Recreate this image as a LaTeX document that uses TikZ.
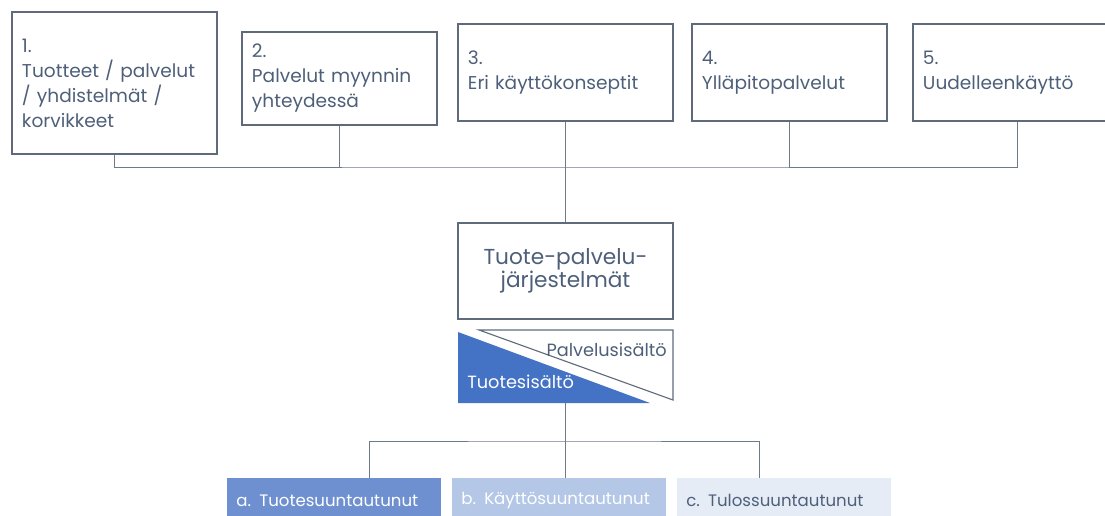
\documentclass[tikz,border=0pt]{standalone}
\usepackage{fontspec}
\setmainfont{Poppins}
\usetikzlibrary{positioning}

\definecolor{txtblue}{HTML}{4E5F7A}
\definecolor{linegray}{HTML}{6F7A89}
\definecolor{boxgray}{HTML}{5F6B7A}
\definecolor{prodblue}{HTML}{4472C4}
\definecolor{oriA}{HTML}{6F90D0}
\definecolor{oriB}{HTML}{B4C7E7}
\definecolor{oriC}{HTML}{E6ECF6}

\tikzset{
  typebox/.style={draw=boxgray, line width=0.8pt, text=txtblue, align=left, inner sep=0pt,
    font=\fontsize{13.2}{17.8}\selectfont},
  conn/.style={draw=linegray, line width=0.7pt},
  orient/.style={anchor=north west, inner xsep=0.225cm, inner ysep=0pt, text width=4.9cm,
    minimum height=1.1cm, align=left, font=\fontsize{11.8}{14}\selectfont}
}

\begin{document}
\begin{tikzpicture}[x=0.025cm,y=-0.025cm]
  \useasboundingbox (0,0) rectangle (1105,515);
  \clip (0,0) rectangle (1105,515);

  % service types
  \node[typebox, minimum width=5.125cm, minimum height=3.55cm, text width=4.625cm] (b1) at (114.5,83)
    {1.\\Tuotteet / palvelut\\/ yhdistelmät /\\korvikkeet};
  \node[typebox, minimum width=4.875cm, minimum height=2.325cm, text width=4.375cm] (b2) at (339.5,78.5)
    {2.\\Palvelut myynnin\\yhteydessä};
  \node[typebox, minimum width=5.375cm, minimum height=2.425cm, text width=4.875cm] (b3) at (565.5,72.5)
    {3.\\Eri käyttökonseptit};
  \node[typebox, minimum width=4.875cm, minimum height=2.425cm, text width=4.375cm] (b4) at (789.5,72.5)
    {4.\\Ylläpitopalvelut};
  \node[typebox, minimum width=5.2cm, minimum height=2.425cm, text width=4.7cm] (b5) at (1017,72.5)
    {5.\\Uudelleenkäyttö};

  % product-service system
  \node[typebox, align=center, minimum width=5.375cm, minimum height=2.4cm,
    font=\fontsize{15.4}{16.4}\selectfont] (pss) at (565.5,271) {Tuote-palvelu-\\järjestelmät};

  % top bus
  \coordinate (bus) at (565,167);
  \draw[conn] (b1.south) |- (bus) -| (b5.south);
  \draw[conn] (b2.south) -- (b2.south |- bus);
  \draw[conn] (b4.south) -- (b4.south |- bus);
  \draw[conn] (b3.south) -- (pss.north);

  % content split
  \fill[prodblue] (458,332) -- (458,403) -- (650,403) -- cycle;
  \draw[boxgray, line width=0.8pt] (479,330) -- (673,330) -- (673,400) -- cycle;
  \node[anchor=base east, inner sep=0pt, text=txtblue, font=\fontsize{12.6}{14}\selectfont] (svc) at (667,356) {Palvelusisältö};
  \node[anchor=base west, inner sep=0pt, text=white, font=\fontsize{12.6}{14}\selectfont] (prod) at (467,388) {Tuotesisältö};
  \coordinate (tribase) at (565,403);

  % orientations
  \node[orient, fill=oriA, text=white] (ta) at (227,478) {a. Tuotesuuntautunut};
  \node[orient, fill=oriB, text=white] (tb) at (452,478) {b. Käyttösuuntautunut};
  \node[orient, fill=oriC, text=txtblue] (tc) at (677,478) {c. Tulossuuntautunut};

  % bottom bus
  \coordinate (bus2) at (565,441);
  \coordinate (ja) at (369,478);
  \coordinate (jc) at (759,478);
  \draw[conn] (tribase) -- (bus2);
  \draw[conn] (ja) |- (bus2) -| (jc);
  \draw[conn] (bus2) -- (tb.north -| bus2);
\end{tikzpicture}
\end{document}
